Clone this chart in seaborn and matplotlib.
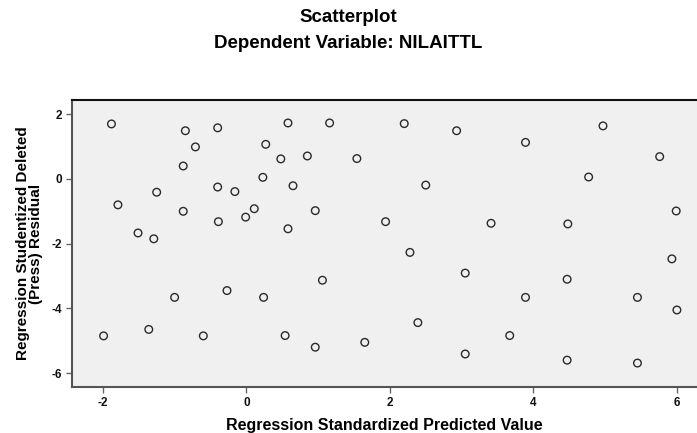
import matplotlib
matplotlib.use('Agg')
import numpy as np
import pandas as pd
import matplotlib.pyplot as plt
import seaborn as sns

# predicted (standardized) values
pred = [-1.88, -0.85, -0.40, -0.71, -0.88, -1.25, -0.40, -0.16, -1.79, -0.88,
        -0.39, -1.51, -1.29, 0.58, 1.16, 2.20, 2.93, 0.27, 0.48, 0.85,
        1.54, 0.23, 0.65, 2.50, 0.11, -0.01, 0.96, 1.94, 0.58, 2.28,
        4.97, 3.89, 5.76, 4.77, 5.99, 3.41, 4.48, -1.00, -0.27, -1.36,
        -1.99, -0.60, 0.24, 1.06, 3.05, 2.39, 3.05, 0.54, 0.96, 1.65,
        5.93, 4.47, 3.89, 5.45, 6.00, 3.67, 4.47, 5.45]

# studentized deleted residuals
resid = [1.70, 1.49, 1.58, 0.99, 0.40, -0.41, -0.25, -0.39, -0.80, -1.00,
         -1.32, -1.67, -1.85, 1.73, 1.73, 1.71, 1.49, 1.07, 0.62, 0.71,
         0.63, 0.05, -0.21, -0.19, -0.92, -1.18, -0.98, -1.32, -1.54, -2.27,
         1.64, 1.13, 0.69, 0.06, -0.99, -1.37, -1.39, -3.66, -3.45, -4.65,
         -4.85, -4.85, -3.66, -3.13, -2.91, -4.44, -5.41, -4.84, -5.20, -5.05,
         -2.47, -3.10, -3.66, -3.66, -4.05, -4.84, -5.60, -5.69]

df = pd.DataFrame({'pred': pred, 'resid': resid})

sns.set_style('white')
plt.rcParams['font.family'] = ['Liberation Sans', 'DejaVu Sans']
plt.rcParams['axes.unicode_minus'] = False
plt.rcParams['text.color'] = 'black'
plt.rcParams['axes.labelcolor'] = 'black'
plt.rcParams['xtick.color'] = '#666666'
plt.rcParams['ytick.color'] = '#666666'
plt.rcParams['xtick.labelcolor'] = '#111111'
plt.rcParams['ytick.labelcolor'] = '#111111'

fig = plt.figure(figsize=(6.97, 4.33), dpi=100)
ax = fig.add_axes([72/697, 46/433, 625/697, 287/433])
ax.set_facecolor('#f0f0f0')

sns.scatterplot(data=df, x='pred', y='resid', ax=ax, marker='o', s=30,
                facecolor='none', edgecolor='#2a2a2a', linewidth=1.0)

ax.set_xlim(-2.43, 6.28)
ax.set_ylim(-6.43, 2.44)
ax.set_xticks([-2, 0, 2, 4, 6])
ax.set_yticks([-6, -4, -2, 0, 2])
ax.tick_params(direction='out', length=4, width=1,
               labelsize=8.5, pad=3, bottom=True, left=True)
for lab in ax.get_xticklabels() + ax.get_yticklabels():
    lab.set_fontweight('bold')

ax.spines['right'].set_visible(False)
ax.spines['top'].set_color('#111111')
ax.spines['top'].set_linewidth(1.5)
for s in ['left', 'bottom']:
    ax.spines[s].set_color('#555555')
    ax.spines[s].set_linewidth(1.5)

ax.set_xlabel('Regression Standardized Predicted Value', fontsize=11.5,
              fontweight='bold', labelpad=7)
ax.set_ylabel('Regression Studentized Deleted\n(Press) Residual', fontsize=11,
              fontweight='bold', labelpad=6, linespacing=0.95)

fig.text(0.5, 1 - 17/433, 'Scatterplot', ha='center', va='center',
         fontsize=13.5, fontweight='bold')
fig.text(0.5, 1 - 43/433, 'Dependent Variable: NILAITTL', ha='center',
         va='center', fontsize=13.5, fontweight='bold')

fig.savefig('out.png', dpi=100)
